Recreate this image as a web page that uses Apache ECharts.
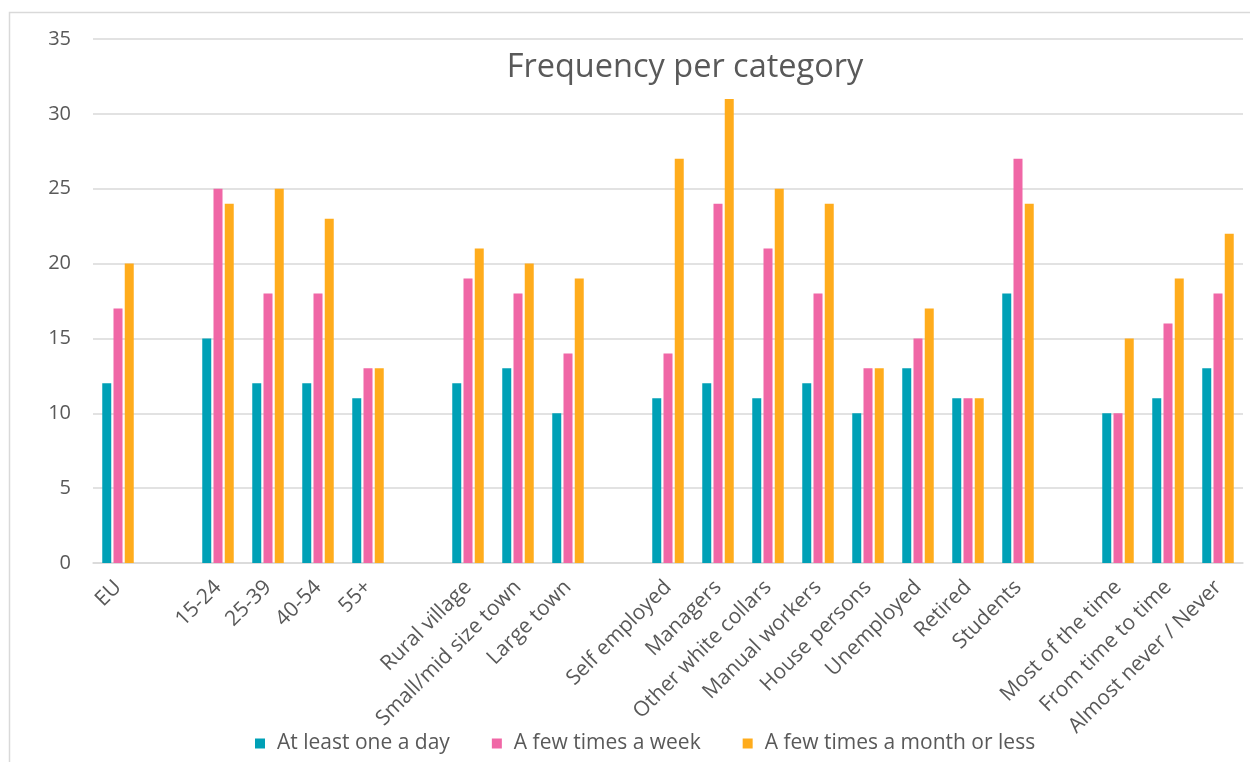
<!DOCTYPE html>
<html><head><meta charset="utf-8">
<script src="https://cdn.jsdelivr.net/npm/echarts@6/dist/echarts.min.js"></script>
<style>html,body{margin:0;padding:0;background:#fff}#c{width:1250px;height:762px}</style>
</head><body><div id="c"></div>
<script>
const categories = ['EU','','15-24','25-39','40-54','55+','','Rural village','Small/mid size town','Large town','','Self employed','Managers','Other white collars','Manual workers','House persons','Unemployed','Retired','Students','','Most of the time','From time to time','Almost never / Never'];
const atLeastOneADay = [12,null,15,12,12,11,null,12,13,10,null,11,12,11,12,10,13,11,18,null,10,11,13];
const fewTimesAWeek = [17,null,25,18,18,13,null,19,18,14,null,14,24,21,18,13,15,11,27,null,10,16,18];
const fewTimesAMonth = [20,null,24,25,23,13,null,21,20,19,null,27,31,25,24,13,17,11,24,null,15,19,22];
const seriesNames = ['At least one a day','A few times a week','A few times a month or less'];
const colors = ['#00A0B6','#F067A6','#FFAC1C'];
const font = '"Open Sans", "Noto Sans", sans-serif';
const chart = echarts.init(document.getElementById('c'));
const data = [atLeastOneADay, fewTimesAWeek, fewTimesAMonth];
chart.setOption({
  animation:false,
  color: colors,
  title:{text:'Frequency per category',left:680,top:46,textAlign:'center',textStyle:{fontFamily:font,fontSize:32.5,fontWeight:'normal',color:'#595959'}},
  graphic:[{type:'polyline',shape:{points:[[9.5,770],[9.5,12.5],[1260,12.5]]},style:{stroke:'#d9d9d9',lineWidth:1.5,fill:null},silent:true}],
  legend:{bottom:3,left:250,itemWidth:10,itemHeight:10,itemGap:42,icon:'rect',textStyle:{fontFamily:font,fontSize:21,color:'#595959',padding:[0,0,0,7]},data:seriesNames},
  grid:{left:93,right:7,top:39,bottom:199},
  xAxis:{type:'category',data:categories,axisTick:{show:false},axisLine:{lineStyle:{color:'#d9d9d9',width:1.5}},
    axisLabel:{interval:0,rotate:45,margin:21,fontFamily:font,fontSize:21,color:'#595959'}},
  yAxis:{type:'value',min:0,max:35,interval:5,axisLine:{show:false},axisTick:{show:false},
    splitLine:{lineStyle:{color:'#d9d9d9',width:1.5}},
    axisLabel:{margin:22,fontFamily:font,fontSize:20,color:'#595959'}},
  series: seriesNames.map((n,i)=>({name:n,type:'bar',data:data[i],barWidth:9,barGap:'25%',itemStyle:{color:colors[i]}}))
});
</script></body></html>
